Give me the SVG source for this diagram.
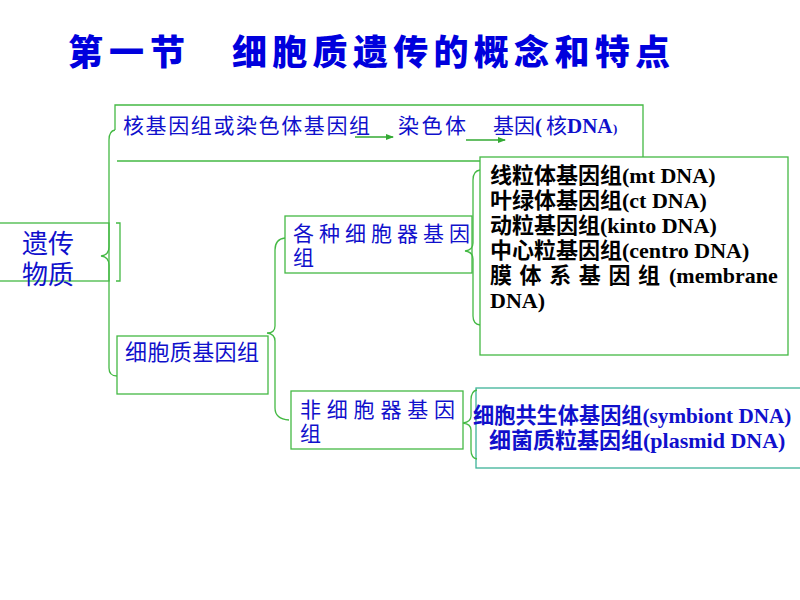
<svg xmlns="http://www.w3.org/2000/svg" width="800" height="600" viewBox="0 0 800 600">
<style>
.box{fill:#fff;stroke:#44B944;stroke-width:1.3}
.ln{fill:none;stroke:#44B944;stroke-width:1.3}
.blue{fill:#1010CC;font-family:"Liberation Serif","Noto Sans CJK SC",serif}
.blk{fill:#000;font-family:"Liberation Serif","Noto Sans CJK SC",serif;font-weight:bold;font-size:22px}
.bb{font-weight:bold;font-size:22px}
.title{fill:#0000DD;font-family:"Noto Sans CJK SC",sans-serif;font-weight:900;font-size:35px}
</style>
<defs>
<marker id="ah" markerWidth="8" markerHeight="6" refX="7" refY="3" orient="auto" markerUnits="userSpaceOnUse">
<path d="M0,0 L8,3 L0,6 Z" fill="#33AA33"/>
</marker>
</defs>
<rect width="800" height="600" fill="#fff"/>

<g id="title">
<text class="title" x="68" y="65" textLength="117" lengthAdjust="spacing">第一节</text>
<text class="title" x="232" y="65" textLength="438" lengthAdjust="spacing">细胞质遗传的概念和特点</text>
</g>

<g id="nuclear">
<path class="ln" d="M115,130 V105 H643 V161 H117"/>
<text class="blue" font-size="21" x="123" y="133" textLength="247" lengthAdjust="spacing">核基因组或染色体基因组</text>
<text class="blue" font-size="21" x="398" y="133" textLength="68" lengthAdjust="spacing">染色体</text>
<text class="blue" font-size="21" y="133"><tspan x="493">基因</tspan><tspan x="535" font-weight="bold">(</tspan><tspan x="546">核</tspan><tspan x="567" font-weight="bold">DNA</tspan><tspan x="613" font-size="13" font-weight="bold">)</tspan></text>
</g>

<g id="heredity">
<rect class="box" x="-2" y="223" width="111" height="58"/>
<text class="blue" font-size="26" x="22" y="253">遗传</text>
<text class="blue" font-size="26" x="22" y="284">物质</text>
</g>

<g id="cytoplasmic">
<rect class="box" x="117" y="336" width="151" height="58"/>
<text class="blue" font-size="22" x="125" y="360" textLength="134" lengthAdjust="spacing">细胞质基因组</text>
</g>

<g id="organelle">
<rect class="box" x="285" y="216" width="187" height="57"/>
<text class="blue" font-size="21" x="293" y="241" textLength="177" lengthAdjust="spacing">各种细胞器基因</text>
<text class="blue" font-size="21" x="293" y="265">组</text>
</g>

<g id="nonorganelle">
<rect class="box" x="291" y="391" width="172" height="58"/>
<text class="blue" font-size="21" x="300" y="417" textLength="155" lengthAdjust="spacing">非细胞器基因</text>
<text class="blue" font-size="21" x="300" y="441">组</text>
</g>

<g id="organelle-list">
<rect class="box" x="480" y="157" width="308" height="198"/>
<text class="blk" x="490" y="183">线粒体基因组(mt DNA)</text>
<text class="blk" x="490" y="208">叶绿体基因组(ct DNA)</text>
<text class="blk" x="490" y="233">动粒基因组(kinto DNA)</text>
<text class="blk" x="490" y="258">中心粒基因组(centro DNA)</text>
<text class="blk" x="490" y="283"><tspan letter-spacing="7.6">膜体系基因组</tspan><tspan x="669">(membrane</tspan></text>
<text class="blk" x="490" y="308">DNA)</text>
</g>

<g id="nonorganelle-list">
<rect x="476" y="388" width="330" height="80" fill="#fff" stroke="#3DB399" stroke-width="1.3"/>
<text class="blue" font-weight="bold" font-size="21.2" x="473" y="423">细胞共生体基因组(symbiont DNA)</text>
<text class="blue bb" x="489" y="448">细菌质粒基因组(plasmid DNA)</text>
</g>

<g id="connectors">
<path class="ln" d="M115,130 Q109,131 109,140 V247 Q109,255 101,256 Q109,257 109,265 V368 Q109,376 117,376"/>
<path class="ln" d="M116,223 H120 V281 H116"/>
<path class="ln" d="M285,238 Q275,239 275,250 V326 Q275,333 267,333 Q275,334 275,341 V408 Q275,419 289,420"/>
<path class="ln" d="M480,170 Q473,171 473,180 V243 Q473,250 465,251 Q473,252 473,259 V316 Q473,324 480,325"/>
<path class="ln" d="M477,390 Q471,391 471,400 V416 Q471,422 463,423 Q471,424 471,430 V450 Q471,458 477,459"/>
<line x1="355" y1="137" x2="393" y2="137" stroke="#33AA33" stroke-width="1.3" marker-end="url(#ah)"/>
<line x1="466" y1="140" x2="505" y2="140" stroke="#33AA33" stroke-width="1.3" marker-end="url(#ah)"/>
</g>
</svg>
